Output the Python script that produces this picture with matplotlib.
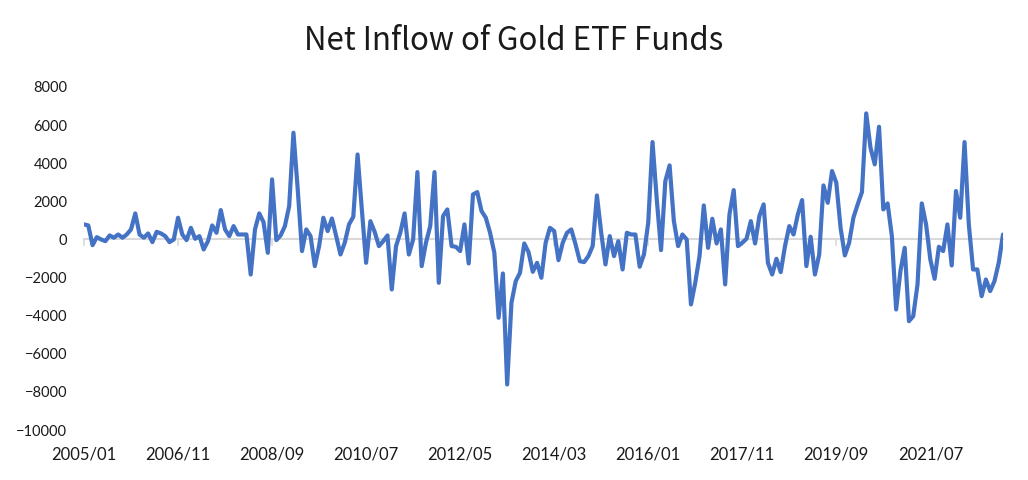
import numpy as np
import matplotlib.pyplot as plt

# monthly net inflow, 2005/01 - 2022/12
net_2005 = [790, 735, -300, 120, 0, -90, 210, 90, 260, 90, 260, 525]
net_2006 = [1365, 260, 90, 315, -140, 400, 315, 175, -140, 0, 1140, 260]
net_2007 = [-35, 610, 35, 175, -525, -90, 735, 350, 1540, 525, 175, 700]
net_2008 = [260, 260, 260, -1840, 525, 1365, 910, -700, 3150, -35, 210, 700]
net_2009 = [1750, 5600, 2625, -610, 525, 175, -1400, -350, 1140, 440, 1100, 175]
net_2010 = [-790, -175, 790, 1190, 4460, 1575, -1225, 960, 400, -350, -90, 210]
net_2011 = [-2625, -350, 350, 1365, -790, 0, 3535, -1400, -175, 700, 3535, -2275]
net_2012 = [1225, 1575, -350, -385, -610, 790, -1260, 2360, 2485, 1490, 1140, 350]
net_2013 = [-700, -4110, -1785, -7610, -3325, -2190, -1750, -210, -665, -1700, -1225, -2010]
net_2014 = [-175, 610, 440, -1085, -175, 350, 525, -260, -1140, -1190, -875, -350]
net_2015 = [2310, 350, -1310, 175, -875, -90, -1575, 350, 260, 260, -1435, -790]
net_2016 = [875, 5110, 2100, -560, 3060, 3885, 960, -350, 260, 0, -3410, -2275]
net_2017 = [-875, 1785, -440, 1085, -210, 525, -2360, 1310, 2590, -350, -175, 35]
net_2018 = [960, -210, 1225, 1840, -1225, -1840, -1015, -1715, -350, 700, 260, 1310]
net_2019 = [2065, -1400, 140, -1840, -790, 2835, 1925, 3590, 2975, 610, -840, -175]
net_2020 = [1140, 1840, 2485, 6615, 4810, 3940, 5915, 1575, 1890, 175, -3675, -1660]
net_2021 = [-440, -4290, -4025, -2360, 1890, 790, -1050, -2065, -385, -610, 790, -1365]
net_2022 = [2540, 1140, 5110, 790, -1575, -1575, -2975, -2100, -2710, -2190, -1225, 260]

years = list(range(2005, 2023))
tick_labels = ['2005/01', '2006/11', '2008/09', '2010/07', '2012/05',
               '2014/03', '2016/01', '2017/11', '2019/09', '2021/07']

values = (net_2005 + net_2006 + net_2007 + net_2008 + net_2009 + net_2010
          + net_2011 + net_2012 + net_2013 + net_2014 + net_2015 + net_2016
          + net_2017 + net_2018 + net_2019 + net_2020 + net_2021 + net_2022)
months = [f'{y}/{m:02d}' for y in years for m in range(1, 13)]
x = np.arange(len(values))
tick_pos = [months.index(t) for t in tick_labels]

fig = plt.figure(figsize=(10.28, 4.8), dpi=100)
ax = fig.add_axes([84/1028, 1 - 430/480, (1003 - 84)/1028, 343/480])

ax.plot(x, values, color='#4472C4', lw=3.0, solid_joinstyle='round',
        solid_capstyle='round', zorder=3)

ax.set_xlim(0, len(values) - 1)
ax.set_ylim(-10000, 8000)
ax.set_yticks(np.arange(-10000, 8001, 2000))
ax.set_xticks(tick_pos)
ax.set_xticklabels(tick_labels, fontfamily='Lato', fontsize=12)
for lab in ax.get_yticklabels():
    lab.set_fontfamily('Lato')
    lab.set_fontsize(10.5)
ax.tick_params(axis='y', length=0, pad=12, colors='#1a1a1a')
ax.tick_params(axis='x', length=0, pad=12, colors='#1a1a1a')
for s in ax.spines.values():
    s.set_visible(False)

# category axis drawn at zero
zero = ax.secondary_xaxis(10000 / 18000)
zero.set_xticks(tick_pos)
zero.set_xticklabels([])
zero.tick_params(direction='in', length=5, width=1.2, color='#d9d9d9')
for s in zero.spines.values():
    s.set_color('#d9d9d9')
    s.set_linewidth(1.5)

fig.text(0.5, 1 - 41/480, 'Net Inflow of Gold ETF Funds', ha='center', va='center',
         fontsize=22.5, fontfamily='Noto Sans CJK SC', color='#1a1a1a')

fig.savefig('out.png', dpi=100)
